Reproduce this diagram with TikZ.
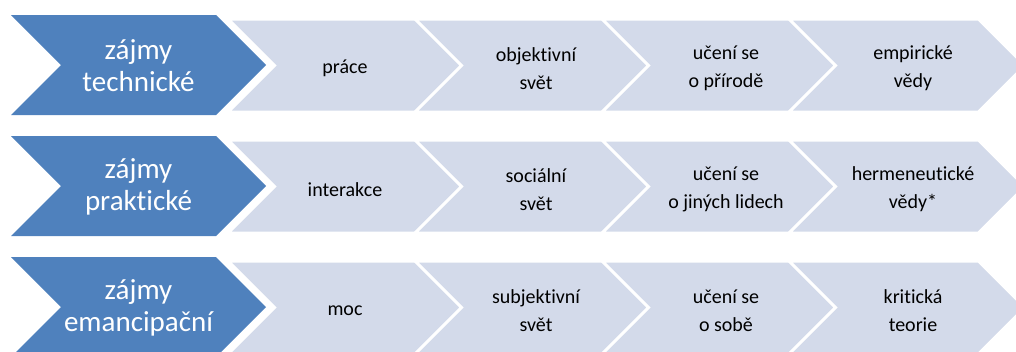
\documentclass[tikz,border=0pt]{standalone}
\usepackage{fontspec}
\setmainfont{Carlito}[Ligatures=NoCommon]
\definecolor{accent}{RGB}{79,129,189}
\definecolor{lightfill}{RGB}{211,218,234}
\tikzset{
  bluechev/.style={fill=accent, draw=none},
  lightchev/.style={fill=lightfill, draw=white, line width=3pt, line join=miter},
  bluetext/.style={text=white, align=center, font=\fontsize{29}{32}\selectfont, inner sep=0pt},
  lighttext/.style={text=black, align=center, font=\fontsize{20}{28}\selectfont, inner sep=0pt},
}
\begin{document}
\begin{tikzpicture}[x=1pt,y=-1pt]
\useasboundingbox (0,0) rectangle (1016,351);
\clip (0,0) rectangle (1016,351);
\foreach \t in {15,136,257} {
  \fill[bluechev] (11,\t) -- ++(205,0) -- ++(50,50) -- ++(-50,50) -- ++(-205,0) -- ++(50,-50) -- cycle;
  \foreach \i in {0,1,2,3} {
    \pgfmathsetmacro\L{228+187*\i}
    \draw[lightchev] (\L,\t+4) -- ++(189.5,0) -- ++(46.5,46.5) -- ++(-46.5,46.5) -- ++(-189.5,0) -- ++(46.5,-46.5) -- cycle;
  }
}
% row 1
\node[bluetext] (b1) at (138.5,66) {zájmy\\technické};
\node[lighttext] (c11) at (345,68.5) {práce};
\node[lighttext] (c12) at (536,68.5) {objektivní\\svět};
\node[lighttext] (c13) at (726,68.5) {učení se\\o přírodě};
\node[lighttext] (c14) at (913,68.5) {empirické\\vědy};
% row 2
\node[bluetext] (b2) at (138.5,187) {zájmy\\praktické};
\node[lighttext] (c21) at (345,189.5) {interakce};
\node[lighttext] (c22) at (536,189.5) {sociální\\svět};
\node[lighttext] (c23) at (726,189.5) {učení se\\o jiných lidech};
\node[lighttext] (c24) at (913,189.5) {hermeneutické\\vědy*};
% row 3
\node[bluetext] (b3) at (138.5,308) {zájmy\\emancipační};
\node[lighttext] (c31) at (345,310.5) {moc};
\node[lighttext] (c32) at (536,310.5) {subjektivní\\svět};
\node[lighttext] (c33) at (726,310.5) {učení se\\o sobě};
\node[lighttext] (c34) at (913,310.5) {kritická\\teorie};
\end{tikzpicture}
\end{document}
